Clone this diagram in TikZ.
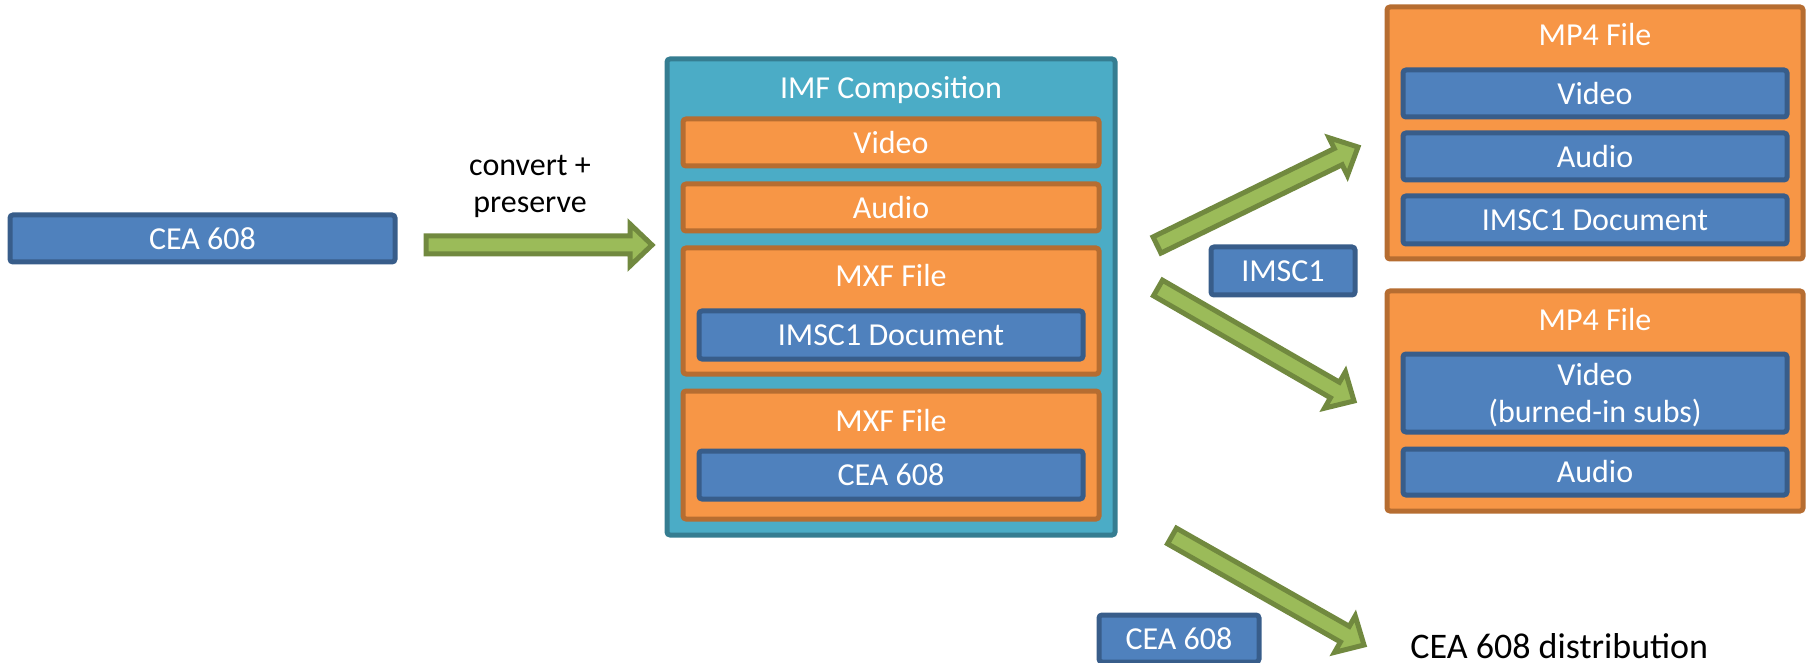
\documentclass[tikz,border=0pt]{standalone}
\usepackage{fontspec}
\setmainfont{Carlito}
\usetikzlibrary{calc}

\definecolor{bluefill}{HTML}{4F81BD}
\definecolor{blueline}{HTML}{385D8A}
\definecolor{orangefill}{HTML}{F79646}
\definecolor{orangeline}{HTML}{B66D31}
\definecolor{tealfill}{HTML}{4BACC6}
\definecolor{tealline}{HTML}{357D91}
\definecolor{greenfill}{HTML}{9BBB59}
\definecolor{greenline}{HTML}{71893F}

\tikzset{
  box/.style={rectangle, rounded corners=1.5pt, line width=2.5pt, inner sep=0pt,
    text=white, font=\fontsize{16}{18.5}\selectfont, align=center},
  size/.style 2 args={minimum width=#1pt, minimum height=#2pt},
  bluebox/.style={box, fill=bluefill, draw=blueline},
  orangebox/.style={box, fill=orangefill, draw=orangeline},
  tealbox/.style={box, fill=tealfill, draw=tealline},
  boxtitle/.style={text=white, inner sep=0pt, anchor=base,
    font=\fontsize{16}{18.5}\selectfont},
  caption/.style={text=black, inner sep=0pt, align=center,
    font=\fontsize{16}{18.5}\selectfont},
  bigcaption/.style={text=black, inner sep=0pt, anchor=base west,
    font=\fontsize{18}{21}\selectfont},
  blockarrow/.style={fill=greenfill, draw=greenline, line width=2.5pt, line join=miter},
}

% block arrow from tail coordinate #1 to tip coordinate #2
\newcommand\greenarrow[2]{%
  \coordinate (#1-base) at ($(#2)!11pt!(#1)$);
  \draw[blockarrow]
    ($(#1)!4.5pt!90:(#2)$) --
    ($(#1-base)!4.5pt!90:(#2)$) --
    ($(#1-base)!10.5pt!90:(#2)$) --
    (#2) --
    ($(#1-base)!10.5pt!-90:(#2)$) --
    ($(#1-base)!4.5pt!-90:(#2)$) --
    ($(#1)!4.5pt!-90:(#2)$) -- cycle;}

\begin{document}
\begin{tikzpicture}[x=0.5pt, y=-0.5pt]
\useasboundingbox (0,0) rectangle (1810,663);
\clip (0,0) rectangle (1810,663);

% source captions
\node[bluebox, size={192.5}{23.5}] (src) at (202.5,238.5) {CEA 608};

% IMF composition package
\node[tealbox, size={224}{238}] (imf) at (891,297) {};
\node[boxtitle] (imftitle) at (891,99) {IMF Composition};
\node[orangebox, size={208}{23.5}] (imfvideo) at (891,142.5) {Video};
\node[orangebox, size={208}{23.5}] (imfaudio) at (891,207.5) {Audio};
\node[orangebox, size={208}{63}] (mxfa) at (891,311) {};
\node[boxtitle] (mxfatitle) at (891,287) {MXF File};
\node[bluebox, size={192}{24}] (imscdoc) at (891,335) {IMSC1 Document};
\node[orangebox, size={208}{64}] (mxfb) at (891,455) {};
\node[boxtitle] (mxfbtitle) at (891,431) {MXF File};
\node[bluebox, size={192}{24}] (ceadoc) at (891,475) {CEA 608};

% MP4 with timed text
\node[orangebox, size={208}{126}] (mp4a) at (1595,133) {};
\node[boxtitle] (mp4atitle) at (1595,46) {MP4 File};
\node[bluebox, size={192}{23.5}] (mp4avideo) at (1595,93.5) {Video};
\node[bluebox, size={192}{23.5}] (mp4aaudio) at (1595,156.5) {Audio};
\node[bluebox, size={192}{24}] (mp4adoc) at (1595,220) {IMSC1 Document};

% MP4 with burned-in subtitles
\node[orangebox, size={208}{110}] (mp4b) at (1595,401) {};
\node[boxtitle] (mp4btitle) at (1595,330) {MP4 File};
\node[bluebox, size={192}{39}, text depth=0pt] (mp4bvideo) at (1595,393) {Video\\(burned-in subs)};
\node[bluebox, size={192}{23}] (mp4baudio) at (1595,472) {Audio};

% format tags
\node[bluebox, size={72}{24}] (imsctag) at (1283,271) {IMSC1};
\node[bluebox, size={80}{23.5}] (ceatag) at (1179,638.5) {CEA 608};

% captions
\node[caption] (conv) at (530,186) {convert +\\preserve};
\node[bigcaption] (dist) at (1410,658) {CEA 608 distribution};

% arrows
\coordinate (t1) at (426,245);  \coordinate (p1) at (652,245);
\coordinate (t2) at (1157,245); \coordinate (p2) at (1358,147);
\coordinate (t3) at (1158,288); \coordinate (p3) at (1354,401);
\coordinate (t4) at (1172,536); \coordinate (p4) at (1364,645);
\greenarrow{t1}{p1}
\greenarrow{t2}{p2}
\greenarrow{t3}{p3}
\greenarrow{t4}{p4}
\end{tikzpicture}
\end{document}
